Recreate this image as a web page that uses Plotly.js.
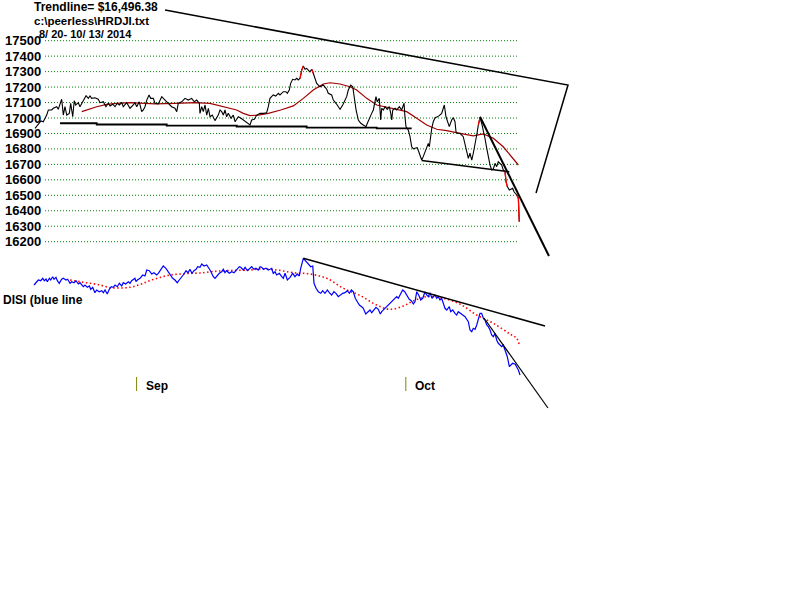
<!DOCTYPE html>
<html>
<head>
<meta charset="utf-8">
<script src="https://cdn.plot.ly/plotly-3.0.1.min.js"></script>
<style>html,body{margin:0;padding:0;background:#fff;}#chart{width:800px;height:600px;}</style>
</head>
<body>
<div id="chart"></div>
<script>
// ---- DATA (x = trading days since 8/20/2014 open, hourly bars) ----
const priceTicks = [17500,17400,17300,17200,17100,17000,16900,16800,16700,16600,16500,16400,16300,16200];
const monthTickX = [8.0, 29.2];
const monthLabels = ['Sep', 'Oct'];
const titleLines = ['Trendline= $16,496.38', 'c:\\peerless\\HRDJI.txt', '8/ 20- 10/ 13/ 2014'];

// DJI hourly closes [day, price]
const dji = [
[0,16933],[0.24,16955],[0.47,16981],[0.65,16976],[0.92,17019],[1.05,17052],[1.31,17052],[1.44,17063],[1.71,17073],[1.83,17056],
[2.10,17121],[2.23,17019],[2.36,17073],[2.50,17019],[2.70,17030],[2.81,17095],[2.97,17008],[3.09,17112],[3.20,17084],[3.41,17099],
[3.54,17073],[3.80,17112],[4.02,17144],[4.20,17127],[4.33,17142],[4.46,17127],[4.72,17131],[4.98,17121],[5.12,17099],[5.38,17105],
[5.59,17073],[5.77,17095],[5.91,17078],[6.12,17089],[6.30,17073],[6.48,17095],[6.64,17084],[6.83,17099],[6.95,17073],[7.22,17099],
[7.48,17063],[7.74,17084],[7.87,17099],[8.01,17073],[8.21,17105],[8.40,17041],[8.53,17052],[8.66,17073],[8.80,17116],[8.98,17149],
[9.11,17127],[9.31,17127],[9.45,17095],
[9.71,17091],[9.98,17138],[10.24,17116],[10.50,17095],[10.76,17073],[11.02,17063],[11.16,17041],[11.28,17095],[11.55,17105],[11.81,17127],
[12.07,17116],[12.34,17127],[12.54,17105],[12.73,17116],[12.94,17095],[12.99,17030],[13.13,17073],[13.25,17041],[13.39,17084],[13.52,17019],
[13.65,17063],[13.78,17008],[13.96,17019],[14.17,16983],[14.43,17019],[14.57,17052],[14.70,17041],[14.83,17019],[14.96,17052],[15.09,17008],
[15.22,17030],[15.43,16998],[15.61,17019],[15.75,16976],[16.01,17008],[16.22,16998],[16.40,16987],[16.67,16966],[16.93,16955],[17.06,16987],
[17.27,16992],[17.46,17019],[17.72,17030],[17.98,17030],[18.24,17034],[18.37,17073],[18.50,17127],[18.76,17149],[18.95,17142],[19.16,17160],
[19.29,17149],[19.55,17170],
[19.76,17170],[19.87,17160],[20.02,17181],[20.13,17224],[20.29,17250],[20.47,17246],[20.61,17257],[20.73,17246],[20.87,17257],[21.00,17310],
[21.13,17336],[21.26,17315],[21.39,17321],[21.65,17299],[21.79,17315],[21.91,17289],[22.05,17257],[22.18,17224],[22.44,17202],[22.70,17213],
[22.97,17186],[23.09,17160],[23.36,17149],[23.49,17116],[23.70,17095],[23.88,17073],[24.02,17056],[24.23,17084],[24.41,17121],[24.54,17138],
[24.67,17181],[24.86,17213],[25.02,17202],[25.12,17138],[25.28,17052],[25.46,16987],[25.65,16966],[25.85,16955],[26.06,16944],[26.17,16966],
[26.32,16998],[26.51,17030],[26.64,17052],[26.77,17095],[26.85,17138],[26.95,17105],[27.11,17127],[27.22,16987],[27.30,17063],[27.43,17052],
[27.56,17073],[27.74,17056],[27.90,17073],[28.01,17030],[28.09,16987],[28.17,17052],[28.35,17063],[28.48,17052],[28.69,17073],[28.87,17052],
[29.06,17095],[29.13,17008],[29.21,16944],[29.39,16922],[29.53,16879],
[29.66,16814],[29.79,16800],[29.92,16804],[30.10,16808],[30.26,16772],[30.45,16728],[30.57,16750],[30.71,16782],[30.84,16814],[30.97,16836],
[31.05,16814],[31.16,16901],[31.24,16933],[31.36,16976],[31.50,17002],[31.68,17008],[31.83,17015],[32.02,17030],[32.15,17073],[32.23,17084],
[32.36,17008],[32.46,16976],[32.62,16944],[32.81,16987],[32.94,17002],[33.07,16976],[33.15,16911],[33.25,16901],[33.46,16901],[33.72,16879],
[33.86,16836],[33.99,16793],[34.12,16739],[34.25,16772],[34.39,16728],[34.51,16772],[34.65,16825],[34.78,16890],[34.91,16955],[35.04,17002],
[35.17,16966],[35.30,16922],[35.43,16869],[35.57,16804],[35.69,16750],[35.83,16696],[35.96,16664],[36.09,16670],[36.22,16707],[36.35,16685],
[36.48,16717],[36.61,16707],[36.75,16696],[36.87,16664],[37.01,16653],[37.09,16588],[37.19,16556],[37.35,16534],[37.48,16539],[37.61,16545],
[37.72,16523],[37.93,16502],[38.06,16481],[38.13,16329]
];
// sharp-move highlight ranges (days)
const redRanges = [[20.87,21.13],[21.79,21.91],[34.91,35.04],[37.01,37.19],[37.93,38.13]];

// moving average of DJI [day, price]
const djiMA = [
[3.68,17041],[4.20,17056],[4.86,17073],[5.64,17088],[6.43,17095],[7.48,17099],[8.66,17095],[9.45,17091],[11.02,17095],[12.60,17099],
[13.78,17095],[14.96,17073],[15.88,17052],[16.40,17030],[16.93,17015],[17.58,17019],[18.37,17030],[19.35,17052],[20.34,17078],[21.13,17127],
[21.91,17181],[22.70,17220],[23.23,17228],[24.02,17220],[24.80,17202],[25.33,17181],[26.12,17127],[26.91,17084],[27.69,17069],[28.74,17052],
[29.27,17041],[30.06,16998],[30.84,16955],[31.63,16927],[32.42,16918],[33.46,16901],[34.51,16884],[35.30,16897],[36.09,16869],[36.87,16814],
[37.66,16739],[38.06,16696]
];

// support / trend lines [day, price]
const supportSteps = [[1.97,16966],[4.86,16966],[4.86,16958],[10.37,16958],[10.37,16951],[15.88,16951],[15.88,16945],[21.39,16945],[21.39,16938],[26.91,16938],[26.91,16933],[29.66,16933]];
const lowerSupport = [[30.45,16725],[37.35,16653]];
const steepTrend = [[35.04,17008],[40.47,16107]];
const longTrend = [[10.24,17698],[41.97,17213],[39.45,16515]];

// DISI indicator [day, value]
const disi = [
[-0.08,15],[0.13,18.3],[0.26,20],[0.45,19.3],[0.61,21.7],[0.73,19.3],[0.87,21],[0.97,18.3],[1.13,21.7],[1.24,20],
[1.39,23.3],[1.50,20.7],[1.65,22.7],[1.76,19.3],[1.91,16.7],[2.10,20.7],[2.23,21.7],[2.44,20],[2.57,20.7],[2.76,16.7],
[2.89,18.3],[3.07,17.3],[3.23,19.3],[3.41,16],[3.54,17.3],[3.80,13.3],[3.94,15],[4.12,12.7],[4.28,14],[4.39,10.7],
[4.54,12.7],[4.72,7.3],[4.86,10],[5.06,8.3],[5.25,9.3],[5.38,7.3],[5.51,10],[5.69,6],[5.85,10.7],[6.01,13.3],
[6.17,12.7],[6.30,15],[6.48,13.3],[6.64,16.7],[6.83,14],[6.95,17.3],[7.14,16],[7.35,18.3],[7.48,16.7],[7.61,19.3],
[7.87,21.7],[7.95,18.3],[8.06,20],[8.27,21.7],[8.48,25],[8.66,24],[8.80,30],[9.00,29.3],[9.19,26],[9.37,27.3],
[9.58,25],[9.71,26.7],[9.90,30.7],[10.10,34],[10.31,31.7],[10.50,28.3],[10.69,25],[10.84,21.7],[11.02,20],[11.20,17.3],
[11.36,20],[11.55,22.7],[11.73,26],[11.89,29.3],[12.05,27.3],[12.20,30.7],[12.36,26.7],[12.52,29.3],[12.68,30.7],[12.81,33.3],
[12.99,32.7],[13.13,36],[13.31,34],[13.52,35],[13.65,32.7],[13.78,30],[13.91,26.7],[14.04,23.3],[14.17,21.7],[14.35,25],
[14.51,26.7],[14.70,28.3],[14.83,30.7],[14.96,27.3],[15.09,29.3],[15.30,26.7],[15.49,28.3],[15.67,27.3],[15.88,30],[16.09,33.3],
[16.20,32.7],[16.40,30],[16.54,32.7],[16.72,29.3],[16.93,31.7],[17.06,33.3],[17.24,30.7],[17.40,31.7],[17.58,30],[17.72,33.3],
[17.85,32.7],[17.98,30.7],[18.19,31.7],[18.37,30],[18.50,30.7],[18.64,31.7],[18.76,26.7],[18.90,28.3],[19.03,25],[19.24,26.7],
[19.43,23.3],[19.55,21.7],[19.69,26.7],[19.87,20],[20.08,22.7],[20.29,26.7],[20.47,23.3],[20.65,26],[20.81,24],[20.92,31.7],
[21.13,41.7],[21.34,38.3],[21.52,36],[21.71,33.3],[21.87,34],[21.97,16.7],[22.13,11.7],[22.31,8.3],[22.50,6.7],[22.65,9.3],
[22.83,6.7],[23.02,10],[23.17,7.3],[23.36,5],[23.54,8.3],[23.70,6.7],[23.88,3.3],[24.07,5],[24.23,6.7],[24.41,7.3],
[24.59,9.3],[24.75,6.7],[24.91,10],[25.06,8.3],[25.22,1.7],[25.38,-1.7],[25.54,-5],[25.72,-6.7],[25.85,-8.3],[26.04,-14],
[26.22,-11.7],[26.38,-10],[26.51,-12.7],[26.64,-10.7],[26.85,-7.3],[27.03,-9.3],[27.19,-14],[27.30,-11.7],[27.48,-9.3],[27.69,-7.3],
[27.82,-5],[27.95,-4],[28.17,0],[28.35,1.7],[28.48,3.3],[28.61,1.7],[28.80,6.7],[28.95,10],[29.11,8.3],[29.27,5],
[29.47,0.7],[29.63,-0.7],[29.79,-4],[29.92,-1.7],[30.06,8.3],[30.21,5],[30.37,0],[30.53,1.7],[30.71,8.3],[30.84,5],
[30.97,3.3],[31.10,7.3],[31.26,1.7],[31.36,3.3],[31.50,5],[31.63,1.7],[31.76,3.3],[31.89,0],[32.02,1.7],[32.15,-3.3],
[32.28,-8.3],[32.42,-10],[32.62,-6.7],[32.73,-11.7],[32.89,-10],[33.07,-13.3],[33.20,-15],[33.33,-11.7],[33.46,-13.3],[33.68,-15],
[33.86,-16.7],[33.99,-20],[34.12,-21.7],[34.25,-30],[34.39,-31.7],[34.51,-28.3],[34.65,-29.3],[34.78,-25],[34.91,-20],[35.04,-13.3],
[35.17,-13.3],[35.30,-18.3],[35.43,-20],[35.57,-25],[35.69,-26.7],[35.83,-30],[35.96,-35],[36.09,-36.7],[36.22,-33.3],[36.35,-40],
[36.48,-43.3],[36.61,-45],[36.75,-46.7],[36.87,-45],[37.01,-50],[37.09,-53.3],[37.19,-56.7],[37.35,-66.7],[37.46,-65],[37.61,-63.3],
[37.80,-64],[37.93,-66.7],[38.06,-70],[38.19,-75]
];
const disiMA = [
[2.76,20],[3.54,18.3],[4.33,16.7],[5.12,15],[5.91,12.3],[6.69,12],[7.48,12.7],[8.27,15.5],[9.06,19.5],[9.84,22.5],
[10.63,25],[11.42,26],[12.20,26.7],[12.99,27],[14.02,28.5],[15.35,29.5],[16.93,30],[17.72,31],[19.03,30],[20.34,27.3],
[21.65,26],[22.97,21.7],[24.28,11.7],[25.59,4.5],[26.91,-5],[27.95,-9.3],[29.00,-6],[29.79,-1],[30.84,3.3],[32.15,1.7],
[33.46,-4],[34.78,-15],[36.09,-23.3],[37.40,-34],[37.93,-38.3],[38.16,-46.7]
];
const disiTrendUpper = [[21.13,41.7],[40.16,-26]];
const disiTrendSteep = [[35.35,-18],[40.39,-108]];

// ---- BUILD ----
const xs = a => a.map(p => p[0]);
const ys = a => a.map(p => p[1]);

const redX = [], redY = [];
redRanges.forEach(([a, b]) => {
  dji.forEach(([x, y]) => { if (x >= a - 1e-6 && x <= b + 1e-6) { redX.push(x); redY.push(y); } });
  redX.push(null); redY.push(null);
});

const traces = [
  {x: xs(supportSteps), y: ys(supportSteps), mode: 'lines', line: {color: '#000', width: 1.8}},
  {x: xs(lowerSupport), y: ys(lowerSupport), mode: 'lines', line: {color: '#000', width: 1.5}},
  {x: xs(djiMA), y: ys(djiMA), mode: 'lines', line: {color: '#a00000', width: 1.2}},
  {x: xs(dji), y: ys(dji), mode: 'lines', line: {color: '#000', width: 1.1}},
  {x: redX, y: redY, mode: 'lines', line: {color: '#ff0000', width: 1.3}, connectgaps: false},
  {x: xs(steepTrend), y: ys(steepTrend), mode: 'lines', line: {color: '#000', width: 2}},
  {x: xs(longTrend), y: ys(longTrend), mode: 'lines', line: {color: '#000', width: 1.5}},
  {x: xs(disiMA), y: ys(disiMA), yaxis: 'y2', mode: 'lines', line: {color: '#ff0000', width: 1.6, dash: '1.5px,2.5px', shape: 'spline'}},
  {x: xs(disi), y: ys(disi), yaxis: 'y2', mode: 'lines', line: {color: '#0000ff', width: 1.2}},
  {x: xs(disiTrendUpper), y: ys(disiTrendUpper), yaxis: 'y2', mode: 'lines', line: {color: '#000', width: 1.5}},
  {x: xs(disiTrendSteep), y: ys(disiTrendSteep), yaxis: 'y2', mode: 'lines', line: {color: '#000', width: 1.2}}
];

const FONT = 'Liberation Sans, Arial, sans-serif';
const shapes = [];
const annotations = [];

priceTicks.forEach(v => {
  shapes.push({type: 'line', xref: 'x', yref: 'y', x0: 0.79, x1: 38.03, y0: v, y1: v,
    line: {color: '#008000', width: 1, dash: '1px,2px'}, layer: 'below'});
  annotations.push({xref: 'paper', yref: 'y', x: 42 / 800, y: v, xanchor: 'right', yanchor: 'middle',
    text: '<b>' + v + '</b>', showarrow: false, borderpad: 0, font: {family: FONT, size: 13, color: '#000'}});
});

monthTickX.forEach((mx, i) => {
  shapes.push({type: 'line', xref: 'x', yref: 'paper', x0: mx, x1: mx, y0: 1 - 391 / 600, y1: 1 - 377 / 600,
    line: {color: '#808000', width: 1}});
  annotations.push({xref: 'x', yref: 'paper', x: mx, y: 1 - 386 / 600, xanchor: 'left', yanchor: 'middle', xshift: 8,
    text: '<b>' + monthLabels[i] + '</b>', showarrow: false, borderpad: 0, font: {family: FONT, size: 12, color: '#000'}});
});

const titleY = [7.5, 20.5, 34];
const titleX = [33, 33, 38];
const titleSize = [12, 11.5, 11];
titleLines.forEach((t, i) => {
  annotations.push({xref: 'paper', yref: 'paper', x: titleX[i] / 800, y: 1 - titleY[i] / 600, xanchor: 'left', yanchor: 'middle',
    text: '<b>' + t + '</b>', showarrow: false, borderpad: 0, font: {family: FONT, size: titleSize[i], color: '#000'}});
});
annotations.push({xref: 'paper', yref: 'paper', x: 2 / 800, y: 1 - 300 / 600, xanchor: 'left', yanchor: 'middle',
  text: '<b>DISI (blue line</b>', showarrow: false, borderpad: 0, font: {family: FONT, size: 12, color: '#000'}});

const layout = {
  width: 800, height: 600,
  margin: {l: 0, r: 0, t: 0, b: 0, pad: 0},
  paper_bgcolor: '#fff', plot_bgcolor: '#fff',
  showlegend: false, hovermode: false,
  xaxis: {range: [-2.756, 60.236], visible: false, showgrid: false, zeroline: false, fixedrange: true},
  yaxis: {range: [13882.4, 17763.2], visible: false, showgrid: false, zeroline: false, fixedrange: true},
  yaxis2: {range: [-300, 300], overlaying: 'y', visible: false, showgrid: false, zeroline: false, fixedrange: true},
  shapes: shapes,
  annotations: annotations
};

Plotly.newPlot('chart', traces, layout, {staticPlot: true, displayModeBar: false});
</script>
</body>
</html>
